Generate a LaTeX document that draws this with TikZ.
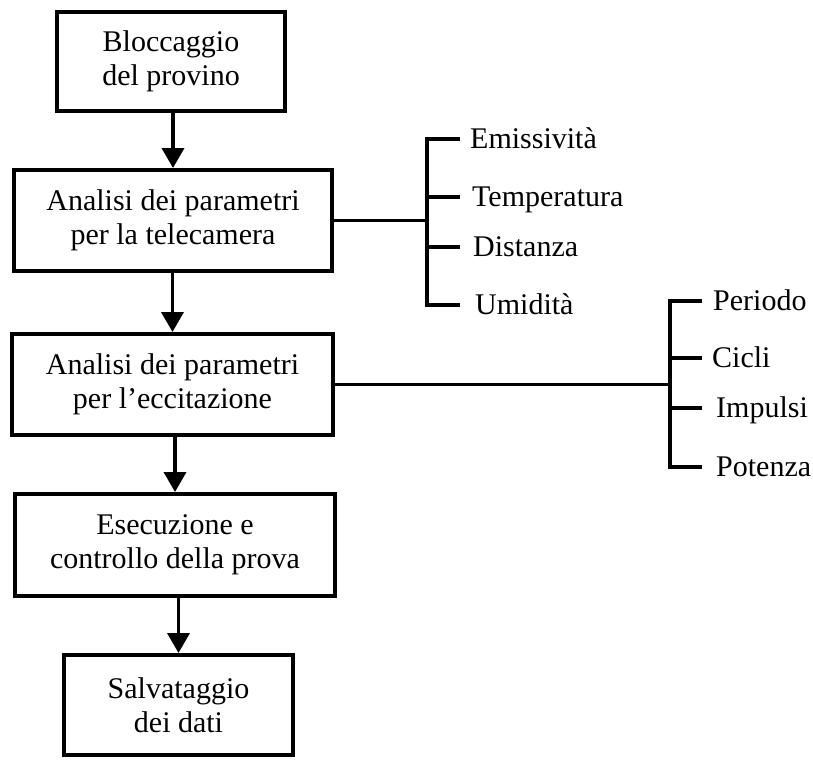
\documentclass[tikz,border=0pt]{standalone}
\usepackage{fontspec}
\setmainfont{Liberation Serif}
\usetikzlibrary{arrows.meta}
\begin{document}
\begin{tikzpicture}[x=1pt,y=-1pt,
  box/.style={draw, line width=4pt, align=center, inner sep=0pt,
    font=\fontsize{30}{34}\selectfont},
  conn/.style={line width=3.7pt},
  arr/.style={conn, -{Triangle[width=22pt,length=20pt]}},
  lbl/.style={anchor=west, inner xsep=10pt, inner ysep=0pt,
    text height=19.5pt, text depth=0pt, font=\fontsize{30}{34}\selectfont}]
\useasboundingbox[fill=white] (0,0) rectangle (813,760);
% boxes
\node[box, minimum width=228pt, minimum height=99pt] (b1) at (171,61.5) {Bloccaggio\\del provino};
\node[box, minimum width=318pt, minimum height=101pt] (b2) at (173,220.5) {Analisi dei parametri\\per la telecamera};
\node[box, minimum width=321pt, minimum height=101pt] (b3) at (172.5,384.5) {Analisi dei parametri\\per l’eccitazione};
\node[box, minimum width=320pt, minimum height=102pt] (b4) at (175,545) {Esecuzione e\\controllo della prova};
\node[box, minimum width=229pt, minimum height=100pt] (b5) at (178.5,705) {Salvataggio\\dei dati};
% arrows
\draw[arr] (b2.north |- b1.south) -- (b2.north);
\draw[arr] (b3.north |- b2.south) -- (b3.north);
\draw[arr] (b4.north |- b3.south) -- (b4.north);
\draw[arr] (b5.north |- b4.south) -- (b5.north);
% bracket 1
\coordinate (v1) at (427,221);
\node[lbl] (e1) at (460,139) {Emissività};
\node[lbl, inner xsep=12pt] (e2) at (460,197) {Temperatura};
\node[lbl, inner xsep=13pt] (e3) at (460,247) {Distanza};
\node[lbl, inner xsep=15pt] (e4) at (460,305) {Umidità};
\draw[conn] (b2.east) -- (b2.east -| v1);
\draw[conn] (e1.west) -- (e1.west -| v1) -- (e4.west -| v1) -- (e4.west);
\draw[conn] (e2.west -| v1) -- (e2.west);
\draw[conn] (e3.west -| v1) -- (e3.west);
% bracket 2
\coordinate (v2) at (670,383);
\node[lbl, inner xsep=11pt] (p1) at (702,301) {Periodo};
\node[lbl, inner xsep=10pt] (p2) at (702,358) {Cicli};
\node[lbl, inner xsep=14pt] (p3) at (702,408) {Impulsi};
\node[lbl, inner xsep=14pt] (p4) at (702,467) {Potenza};
\draw[conn] (b3.east) -- (b3.east -| v2);
\draw[conn] (p1.west) -- (p1.west -| v2) -- (p4.west -| v2) -- (p4.west);
\draw[conn] (p2.west -| v2) -- (p2.west);
\draw[conn] (p3.west -| v2) -- (p3.west);
\end{tikzpicture}
\end{document}
